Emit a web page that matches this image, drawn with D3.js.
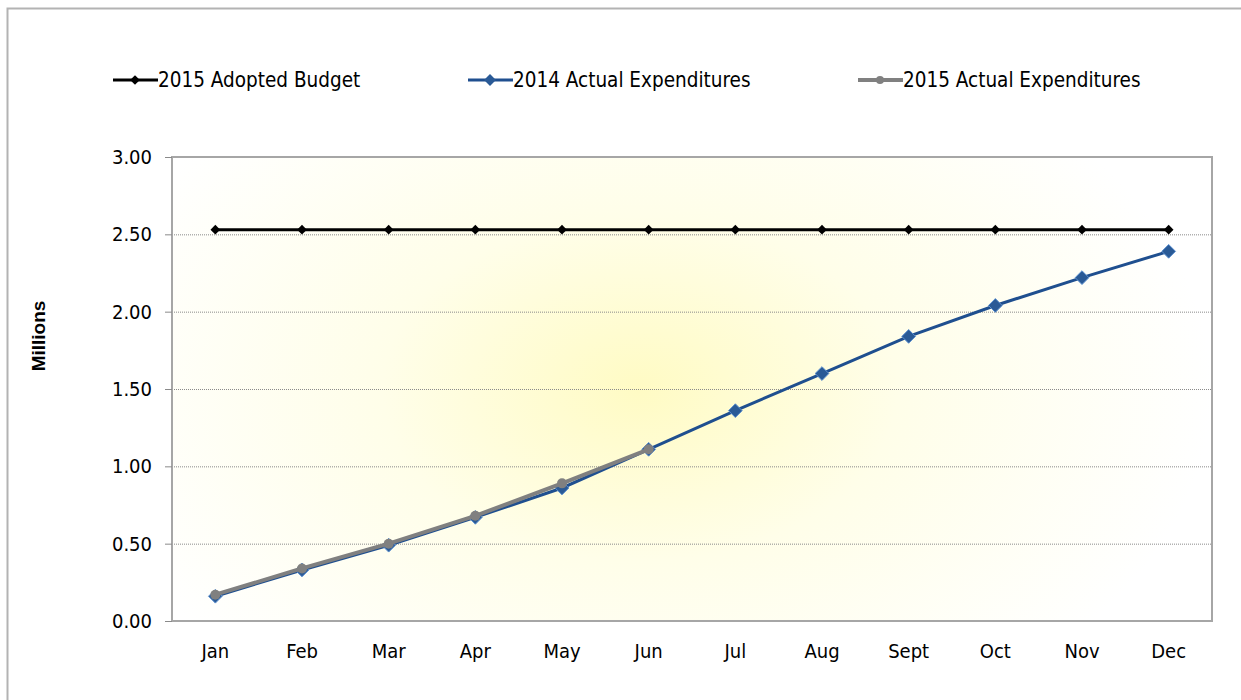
<!DOCTYPE html>
<html>
<head>
<meta charset="utf-8">
<script src="https://cdn.jsdelivr.net/npm/d3@7"></script>
<style>
body { margin: 0; background: #fff; }
svg text { font-family: "DejaVu Sans Condensed", "DejaVu Sans", sans-serif; }
</style>
</head>
<body>
<div id="chart"></div>
<script>
// data
const months = ["Jan","Feb","Mar","Apr","May","Jun","Jul","Aug","Sept","Oct","Nov","Dec"];
const budget2015 = [2.53,2.53,2.53,2.53,2.53,2.53,2.53,2.53,2.53,2.53,2.53,2.53];
const actual2014 = [0.16,0.33,0.49,0.67,0.86,1.11,1.36,1.60,1.84,2.04,2.22,2.39];
const actual2015 = [0.17,0.34,0.50,0.68,0.89,1.11];
const yTicks = [0,0.5,1,1.5,2,2.5,3];

var margin = {top: 157, right: 29, bottom: 79, left: 172},
    W = 1241, H = 700,
    width = W - margin.left - margin.right,
    height = H - margin.top - margin.bottom;

var svg = d3.select("#chart").append("svg")
    .attr("width", W).attr("height", H);

// outer chart border
svg.append("rect")
    .attr("x", 7.5).attr("y", 8.5)
    .attr("width", 1240).attr("height", 700)
    .attr("fill", "#fff").attr("stroke", "#b3b3b3").attr("stroke-width", 2);

var defs = svg.append("defs");
var grad = defs.append("radialGradient")
    .attr("id", "glow")
    .attr("cx", "0.45").attr("cy", "0.5").attr("r", "0.55")
    .attr("gradientTransform", "translate(0.45 0.5) scale(1 1.5) translate(-0.45 -0.5)");
grad.append("stop").attr("offset", "0").attr("stop-color", "#fffbc4");
grad.append("stop").attr("offset", "0.45").attr("stop-color", "#fffee9");
grad.append("stop").attr("offset", "1").attr("stop-color", "#ffffff");

var g = svg.append("g").attr("transform", "translate(" + margin.left + "," + margin.top + ")");

var x = d3.scaleBand().domain(months).range([0, width]);
var y = d3.scaleLinear().domain([0, 3]).range([height, 0]);
var cx = function(d, i) { return x(months[i]) + x.bandwidth() / 2; };

g.append("rect")
    .attr("width", width).attr("height", height)
    .attr("fill", "url(#glow)");

// gridlines
g.selectAll("line.grid")
    .data(yTicks.filter(d => d > 0 && d < 3))
    .enter().append("line")
    .attr("x1", 0).attr("x2", width)
    .attr("y1", d => y(d) + 0.5).attr("y2", d => y(d) + 0.5)
    .attr("stroke", "#8a8a8a").attr("stroke-width", 1)
    .attr("stroke-dasharray", "1,1");

g.append("rect")
    .attr("width", width).attr("height", height)
    .attr("fill", "none").attr("stroke", "#a6a6a6").attr("stroke-width", 2);

// y axis
var yAxis = g.append("g")
    .call(d3.axisLeft(y).tickValues(yTicks).tickFormat(d3.format(".2f")).tickSize(7).tickPadding(13));
yAxis.select(".domain").remove();
yAxis.selectAll(".tick line").attr("stroke", "#8a8a8a");
yAxis.selectAll("text").attr("font-size", 20).attr("fill", "#000");

// x axis
var xAxis = g.append("g").attr("transform", "translate(0," + height + ")")
    .call(d3.axisBottom(x).tickSize(0).tickPadding(23));
xAxis.select(".domain").remove();
xAxis.selectAll("text").attr("font-size", 20).attr("fill", "#000");

svg.append("text")
    .attr("transform", "translate(45,336) rotate(-90)")
    .attr("text-anchor", "middle")
    .attr("font-size", 19).attr("font-weight", "bold")
    .style("font-family", "'Liberation Sans', Arial, sans-serif")
    .text("Millions");

var line = d3.line().x(cx).y(d => y(d));

function diamond(sel, size) {
    return sel.attr("d", d3.symbol().type(d3.symbolDiamond2).size(size)());
}

// 2014
g.append("path").datum(actual2014)
    .attr("fill", "none").attr("stroke", "#1f4f8f").attr("stroke-width", 3).attr("d", line);
g.selectAll("path.m14").data(actual2014).enter().append("path")
    .attr("class", "m14")
    .attr("transform", (d, i) => "translate(" + cx(d, i) + "," + y(d) + ")")
    .attr("fill", "#2a5a96").attr("stroke", "#5b8fd0").attr("stroke-width", 1)
    .call(diamond, 120);

// 2015 actual
g.append("path").datum(actual2015)
    .attr("fill", "none").attr("stroke", "#808080").attr("stroke-width", 4).attr("d", line);
g.selectAll("circle.m15").data(actual2015).enter().append("circle")
    .attr("cx", cx).attr("cy", d => y(d)).attr("r", 5)
    .attr("fill", "#808080");

// budget
g.append("path").datum(budget2015)
    .attr("fill", "none").attr("stroke", "#000").attr("stroke-width", 3).attr("d", line);
g.selectAll("path.mb").data(budget2015).enter().append("path")
    .attr("transform", (d, i) => "translate(" + cx(d, i) + "," + y(d) + ")")
    .attr("fill", "#000")
    .call(diamond, 60);

// legend
const legendItems = [
    {name: "2015 Adopted Budget", x: 113, color: "#000", w: 3, mark: "d", size: 60, fill: "#000"},
    {name: "2014 Actual Expenditures", x: 468, color: "#1f4f8f", w: 3, mark: "d", size: 90, fill: "#2a5a96"},
    {name: "2015 Actual Expenditures", x: 858, color: "#808080", w: 4, mark: "c", size: 4, fill: "#808080"}
];
var lg = svg.selectAll("g.legend").data(legendItems).enter().append("g")
    .attr("transform", d => "translate(" + d.x + ",80)");
lg.append("line").attr("x1", 0).attr("x2", 45).attr("y1", 0).attr("y2", 0)
    .attr("stroke", d => d.color).attr("stroke-width", d => d.w);
lg.each(function(d) {
    var s = d3.select(this);
    if (d.mark === "d") {
        s.append("path").attr("transform", "translate(22,0)").attr("fill", d.fill).call(diamond, d.size);
    } else {
        s.append("circle").attr("cx", 22).attr("r", d.size).attr("fill", d.fill);
    }
});
lg.append("text").attr("x", 45).attr("y", 7)
    .attr("font-size", 20.5).attr("fill", "#000")
    .text(d => d.name);
</script>
</body>
</html>
